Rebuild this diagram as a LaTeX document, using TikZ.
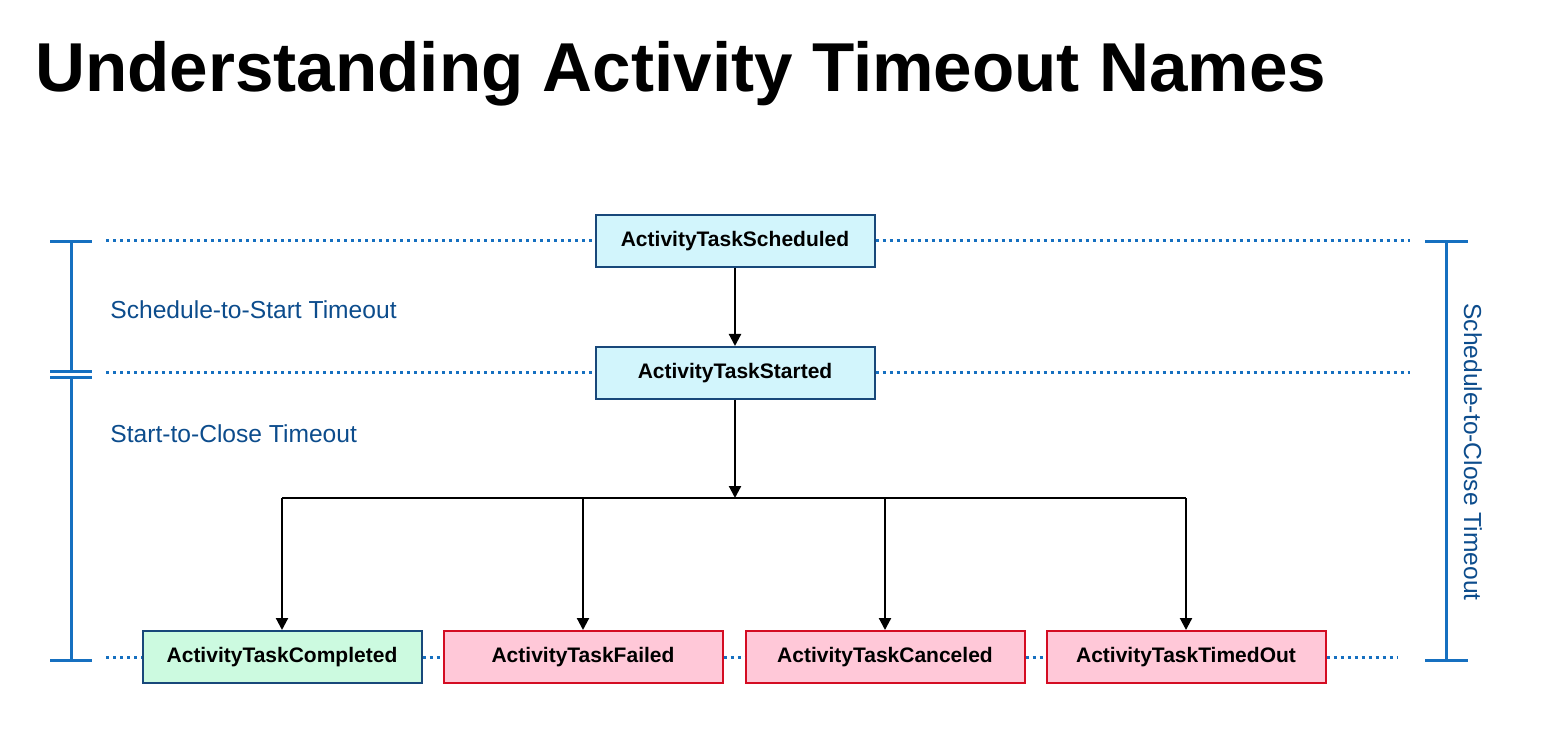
\documentclass[tikz,border=0pt]{standalone}
\usepackage{fontspec}
\setmainfont{Liberation Sans}
\usetikzlibrary{arrows.meta}
\definecolor{brk}{RGB}{22,112,192}
\definecolor{lbl}{RGB}{12,76,140}
\definecolor{bxb}{RGB}{24,72,122}
\definecolor{cyanf}{RGB}{210,245,252}
\definecolor{greenf}{RGB}{204,250,224}
\definecolor{pinkf}{RGB}{255,200,216}
\definecolor{redb}{RGB}{212,12,34}
\tikzset{
  evbox/.style={draw=bxb, line width=1pt, fill=cyanf, minimum width=139.5pt, minimum height=26pt, inner sep=0pt, font=\fontsize{10.5}{12}\selectfont\bfseries},
  okbox/.style={evbox, fill=greenf},
  badbox/.style={evbox, fill=pinkf, draw=redb},
  dotline/.style={draw=brk, line width=1.5pt, dash pattern=on 1.5pt off 2pt},
  brline/.style={draw=brk, line width=1.5pt},
  flow/.style={draw=black, line width=1.1pt, -{Triangle[length=6pt,width=6pt]}},
  flowplain/.style={draw=black, line width=1.1pt},
  tlabel/.style={text=lbl, font=\fontsize{12.3}{14}\selectfont, inner sep=0pt}
}
\begin{document}
\begin{tikzpicture}[x=0.5pt,y=-0.5pt]
\useasboundingbox (0,0) rectangle (1545,742);
\node[anchor=base west, inner sep=0pt, font=\fontsize{34.6}{40}\selectfont\bfseries] (title) at (35,92) {Understanding Activity Timeout Names};

\node[evbox] (sched) at (735,241) {ActivityTaskScheduled};
\node[evbox] (start) at (735,373) {ActivityTaskStarted};
\node[okbox] (comp) at (282,657) {ActivityTaskCompleted};
\node[badbox] (fail) at (583,657) {ActivityTaskFailed};
\node[badbox] (canc) at (885,657) {ActivityTaskCanceled};
\node[badbox] (tout) at (1186,657) {ActivityTaskTimedOut};

% dotted guide lines
\coordinate (d1l) at (106,241);
\coordinate (d1r) at (1410,241);
\coordinate (d2l) at (106,373);
\coordinate (d2r) at (1410,373);
\coordinate (d3l) at (106,657);
\coordinate (d3r) at (1398,657);
\draw[dotline] (d1l) -- (sched.west);
\draw[dotline] (sched.east) -- (d1r);
\draw[dotline] (d2l) -- (start.west);
\draw[dotline] (start.east) -- (d2r);
\draw[dotline] (d3l) -- (comp.west);
\draw[dotline] (comp.east) -- (fail.west);
\draw[dotline] (fail.east) -- (canc.west);
\draw[dotline] (canc.east) -- (tout.west);
\draw[dotline] (tout.east) -- (d3r);

% flow
\coordinate (split) at (735,498);
\coordinate (bl) at (282,498);
\coordinate (br) at (1186,498);
\draw[flow] (sched) -- (start);
\draw[flow] (start) -- (split);
\draw[flowplain] (bl) -- (br);
\draw[flow] (bl) -- (comp.north);
\draw[flow] (fail.north |- split) -- (fail.north);
\draw[flow] (canc.north |- split) -- (canc.north);
\draw[flow] (br) -- (tout.north);

% left bracket
\coordinate (lt) at (71,242);
\coordinate (lm1) at (71,372);
\coordinate (lm2) at (71,378);
\coordinate (lb) at (71,660);
\draw[brline] (50,242) -- (92,242);
\draw[brline] (50,372) -- (92,372);
\draw[brline] (50,378) -- (92,378);
\draw[brline] (50,660) -- (92,660);
\draw[brline] (lt) -- (lm1);
\draw[brline] (lm2) -- (lb);

% right bracket
\coordinate (rt) at (1446,242);
\coordinate (rb) at (1446,660);
\draw[brline] (1425,242) -- (1468,242);
\draw[brline] (1425,660) -- (1468,660);
\draw[brline] (rt) -- (rb);

% labels
\node[tlabel, anchor=west] (l1) at (110,310) {Schedule-to-Start Timeout};
\node[tlabel, anchor=west] (l2) at (110,434) {Start-to-Close Timeout};
\node[tlabel, rotate=-90] (l3) at (1473,452) {Schedule-to-Close Timeout};
\end{tikzpicture}
\end{document}
